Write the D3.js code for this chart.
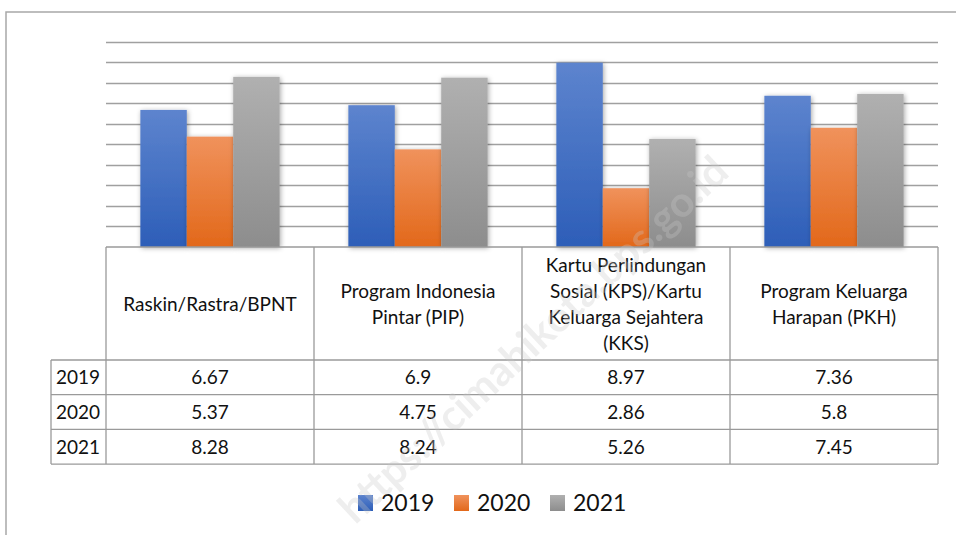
<!DOCTYPE html>
<html>
<head>
<meta charset="utf-8">
<script src="https://cdn.jsdelivr.net/npm/d3@7"></script>
<style>
  body { margin: 0; background: #fff; }
  text { font-family: Lato, "Noto Sans", sans-serif; fill: #111; }
</style>
</head>
<body>
<div id="chart-container"></div>
<script>
// data
const categories = ['Raskin/Rastra/BPNT', 'Program Indonesia Pintar (PIP)',
    'Kartu Perlindungan Sosial (KPS)/Kartu Keluarga Sejahtera (KKS)', 'Program Keluarga Harapan (PKH)'];
const categoryLines = [
    ['Raskin/Rastra/BPNT'],
    ['Program Indonesia', 'Pintar (PIP)'],
    ['Kartu Perlindungan', 'Sosial (KPS)/Kartu', 'Keluarga Sejahtera', '(KKS)'],
    ['Program Keluarga', 'Harapan (PKH)']
];
const years = ['2019', '2020', '2021'];
const values2019 = [6.67, 6.9, 8.97, 7.36];
const values2020 = [5.37, 4.75, 2.86, 5.8];
const values2021 = [8.28, 8.24, 5.26, 7.45];
const gridTicks = [1, 2, 3, 4, 5, 6, 7, 8, 9, 10];

function createChart(elementId) {
    const width = 956;
    const height = 535;

    const plot = { left: 106, right: 938, top: 41.5, bottom: 247 };
    const table = { left: 51, headerBottom: 360, rowHeight: 34.7 };

    const series = [
        { name: years[0], values: values2019, top: '#5d84ce', bottom: '#2d5eb8' },
        { name: years[1], values: values2020, top: '#f0925c', bottom: '#e2681a' },
        { name: years[2], values: values2021, top: '#b0b0b0', bottom: '#8d8d8d' }
    ];

    const svg = d3.select(elementId).append('svg').attr('width', width).attr('height', height);
    const defs = svg.append('defs');

    // gradients
    series.forEach((s, i) => {
        const grad = defs.append('linearGradient')
            .attr('id', 'grad' + i)
            .attr('x1', 0).attr('y1', 0).attr('x2', 0).attr('y2', 1);
        grad.append('stop').attr('offset', '0%').attr('stop-color', s.top);
        grad.append('stop').attr('offset', '100%').attr('stop-color', s.bottom);
    });

    // shadow
    const filter = defs.append('filter').attr('id', 'shadow')
        .attr('x', '-30%').attr('y', '-10%').attr('width', '160%').attr('height', '120%');
    filter.append('feDropShadow')
        .attr('dx', 1).attr('dy', 1).attr('stdDeviation', 2.5)
        .attr('flood-color', '#000').attr('flood-opacity', 0.35);

    // outer border
    svg.append('path')
        .attr('d', `M6,${height} V12 H${width}`)
        .attr('fill', 'none')
        .attr('stroke', '#a8a8a8')
        .attr('stroke-width', 1.5);

    // scales
    const y = d3.scaleLinear().domain([0, 10]).range([plot.bottom, plot.top]);
    const x0 = d3.scaleBand().domain(categories).range([plot.left, plot.right]).padding(0);
    const x1 = d3.scaleBand().domain(years).range([0, x0.bandwidth()])
        .paddingInner(0).paddingOuter(0.74);

    // gridlines
    svg.append('g')
        .selectAll('line')
        .data(gridTicks)
        .join('line')
        .attr('x1', plot.left)
        .attr('x2', plot.right)
        .attr('y1', d => Math.round(y(d)) + 0.5)
        .attr('y2', d => Math.round(y(d)) + 0.5)
        .attr('stroke', '#a0a0a0')
        .attr('stroke-width', 1.6);

    // bars
    const groups = svg.append('g')
        .selectAll('g')
        .data(categories)
        .join('g')
        .attr('transform', d => `translate(${x0(d)},0)`);

    groups.selectAll('rect')
        .data((d, ci) => series.map((s, si) => ({ year: s.name, value: s.values[ci], si })))
        .join('rect')
        .attr('x', d => x1(d.year))
        .attr('y', d => y(d.value))
        .attr('width', x1.bandwidth())
        .attr('height', d => y(0) - y(d.value))
        .attr('fill', d => `url(#grad${d.si})`)
        .attr('filter', 'url(#shadow)');

    // data table
    const tableG = svg.append('g');
    const lineColor = '#9a9a9a';
    const rowY = i => table.headerBottom + i * table.rowHeight;
    const fontSize = '19px';

    // horizontal lines
    tableG.append('line')
        .attr('x1', plot.left).attr('x2', plot.right)
        .attr('y1', plot.bottom).attr('y2', plot.bottom);
    d3.range(years.length + 1).forEach(i => {
        tableG.append('line')
            .attr('x1', table.left).attr('x2', plot.right)
            .attr('y1', rowY(i)).attr('y2', rowY(i));
    });
    // vertical lines
    tableG.append('line')
        .attr('x1', table.left).attr('x2', table.left)
        .attr('y1', rowY(0)).attr('y2', rowY(years.length));
    categories.concat([null]).forEach((c, i) => {
        const xx = c ? x0(c) : plot.right;
        tableG.append('line')
            .attr('x1', xx).attr('x2', xx)
            .attr('y1', plot.bottom).attr('y2', rowY(years.length));
    });
    tableG.selectAll('line')
        .attr('stroke', lineColor)
        .attr('stroke-width', 1.3);

    // header labels
    const headerMid = (plot.bottom + table.headerBottom) / 2;
    categories.forEach((c, ci) => {
        const lines = categoryLines[ci];
        const lh = 26;
        const t = tableG.append('text')
            .attr('text-anchor', 'middle')
            .style('font-size', fontSize);
        lines.forEach((l, li) => {
            t.append('tspan')
                .attr('x', x0(c) + x0.bandwidth() / 2)
                .attr('y', headerMid + (li - (lines.length - 1) / 2) * lh + 7)
                .text(l);
        });
    });

    // rows
    series.forEach((s, si) => {
        const cy = rowY(si) + table.rowHeight / 2 + 7;
        tableG.append('text')
            .attr('x', 56)
            .attr('y', cy)
            .style('font-size', fontSize)
            .text(s.name);
        categories.forEach((c, ci) => {
            tableG.append('text')
                .attr('x', x0(c) + x0.bandwidth() / 2)
                .attr('y', cy)
                .attr('text-anchor', 'middle')
                .style('font-size', fontSize)
                .text(s.values[ci]);
        });
    });

    // legend
    const legend = svg.append('g').attr('transform', 'translate(358, 495)');
    const legendItem = legend.selectAll('g')
        .data(series)
        .join('g')
        .attr('transform', (_, i) => `translate(${i * 96},0)`);
    legendItem.append('rect')
        .attr('width', 15)
        .attr('height', 16)
        .attr('fill', (_, i) => `url(#grad${i})`);
    legendItem.append('text')
        .attr('x', 23)
        .attr('y', 16)
        .style('font-size', '23px')
        .text(d => d.name);

    // watermark
    svg.append('text')
        .attr('transform', 'translate(543,350) rotate(-43)')
        .attr('text-anchor', 'middle')
        .style('font-size', '42px')
        .style('font-weight', 'bold')
        .style('fill', '#c8c8c8')
        .style('opacity', 0.3)
        .text('https://cimahikota.bps.go.id');
}

createChart('#chart-container');
</script>
</body>
</html>
